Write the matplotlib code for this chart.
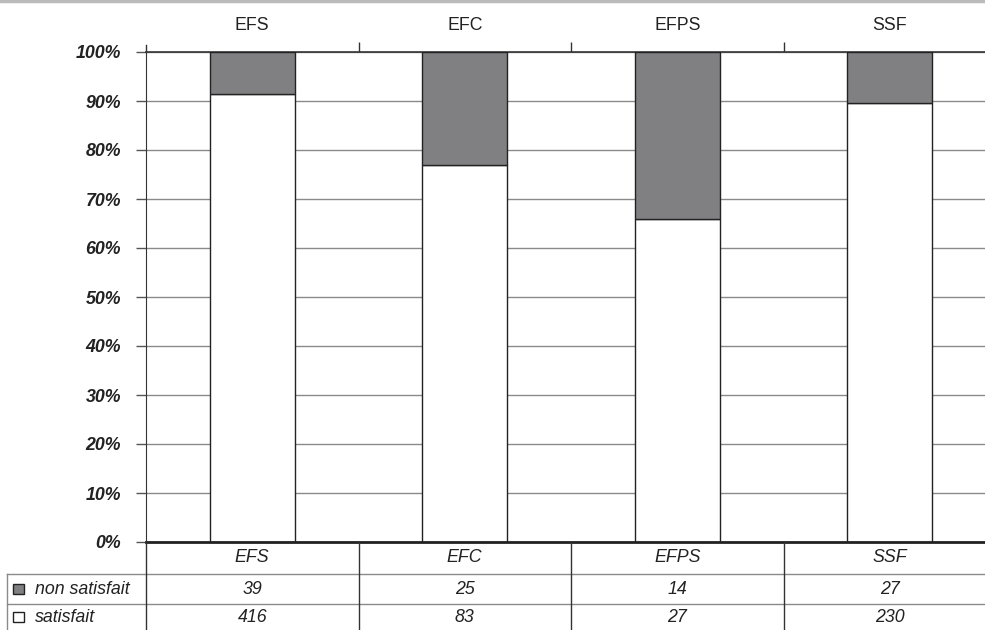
import matplotlib
matplotlib.use("Agg")
import matplotlib.pyplot as plt
from matplotlib.transforms import blended_transform_factory
from matplotlib.lines import Line2D
from matplotlib.patches import Rectangle

plt.rcParams['font.family'] = ['Liberation Sans', 'DejaVu Sans']

categories = ['EFS', 'EFC', 'EFPS', 'SSF']
non_satisfait = [39, 25, 14, 27]
satisfait = [416, 83, 27, 230]
series_names = ['non satisfait', 'satisfait']
yticks = [0, 10, 20, 30, 40, 50, 60, 70, 80, 90, 100]

W, H = 985, 630
fig = plt.figure(figsize=(W / 100, H / 100), dpi=100)

# plot box in pixels (right edge runs past the canvas)
left, right, top, bottom = 146, 996, 52, 542
ax = fig.add_axes([left / W, (H - bottom) / H, (right - left) / W, (bottom - top) / H])

totals = [a + b for a, b in zip(non_satisfait, satisfait)]
pct_sat = [100 * s / t for s, t in zip(satisfait, totals)]
pct_non = [100 * n / t for n, t in zip(non_satisfait, totals)]
xpos = [i + 0.5 for i in range(len(categories))]

grey = '#808083'
txt = '#222222'
fs = 12.8
ax.bar(xpos, pct_sat, width=0.4, color='white', edgecolor=txt, linewidth=1, zorder=3)
ax.bar(xpos, pct_non, bottom=pct_sat, width=0.4, color=grey, edgecolor=txt, linewidth=1, zorder=3)

ax.set_xlim(0, len(categories))
ax.set_ylim(0, 100)
ax.set_yticks(yticks)
ax.set_yticklabels([f'{v}%' for v in yticks], fontsize=fs, fontweight='bold', style='italic', color=txt)
ax.tick_params(axis='y', length=7, width=1, color='#555555', pad=11)
ax.yaxis.grid(True, color='#8a8a8a', linewidth=1)
ax.set_axisbelow(True)

# category labels and boundary ticks along the top
ax.xaxis.tick_top()
ax.set_xticks(range(1, len(categories)))
ax.set_xticklabels([])
ax.tick_params(axis='x', length=7, width=1, color='#333333', direction='out')
tr_top = blended_transform_factory(ax.transData, ax.transAxes)
for x, c in zip(xpos, categories):
    ax.text(x, 1.055, c, transform=tr_top, ha='center', va='center', fontsize=fs, color=txt)

for s in ['right', 'bottom']:
    ax.spines[s].set_visible(False)
ax.spines['left'].set_color('#333333')
ax.spines['top'].set_color('#333333')
ax.spines['top'].set_linewidth(1.2)
ax.axhline(0, color=txt, linewidth=2, zorder=4, clip_on=False)

# data table under the plot, x in data units, y in figure pixels
trans = blended_transform_factory(ax.transData, fig.transFigure)
tfig = fig.transFigure
def fy(py):
    return (H - py) / H

row_y = [542, 574, 604, 630]
x_left_px = 7
dark = '#333333'
light = '#8a8a8a'

# left spine pokes a little above the 100% line
fig.add_artist(Line2D([0, 0], [fy(45), fy(52)], transform=trans, color=dark, lw=1))

for py in row_y[1:3]:
    fig.add_artist(Line2D([x_left_px / W, 1], [fy(py), fy(py)], transform=tfig, color=light, lw=1))
fig.add_artist(Line2D([x_left_px / W, x_left_px / W], [fy(574), fy(630)], transform=tfig, color=light, lw=1))
for b in range(len(categories) + 1):
    fig.add_artist(Line2D([b, b], [fy(542), fy(630)], transform=trans, color=dark, lw=1))

for x, c, n, s in zip(xpos, categories, non_satisfait, satisfait):
    fig.text(x, fy(558), c, transform=trans, ha='center', va='center', fontsize=fs, style='italic', color=txt)
    fig.text(x, fy(589), str(n), transform=trans, ha='center', va='center', fontsize=fs, style='italic', color=txt)
    fig.text(x, fy(617), str(s), transform=trans, ha='center', va='center', fontsize=fs, style='italic', color=txt)

for py, name, fc in [(589, series_names[0], grey), (617, series_names[1], 'white')]:
    fig.add_artist(Rectangle((13 / W, fy(py + 5)), 11 / W, 10 / H, transform=tfig,
                             facecolor=fc, edgecolor=txt, lw=1))
    fig.text(35 / W, fy(py), name, transform=tfig, ha='left', va='center', fontsize=fs, style='italic', color=txt)

# thin frame line along the top edge
fig.add_artist(Line2D([0, 1], [fy(1), fy(1)], transform=tfig, color='#bbbbbb', lw=2.5))

fig.savefig('out.png', dpi=100)
